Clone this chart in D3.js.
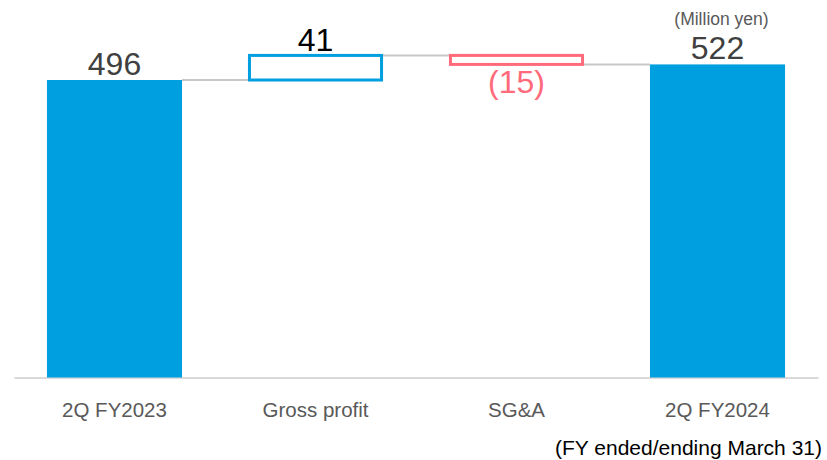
<!DOCTYPE html>
<html>
<head>
<meta charset="utf-8">
<script src="https://cdn.jsdelivr.net/npm/d3@7"></script>
<style>
  html, body { margin: 0; padding: 0; background: #fff; }
  svg { display: block; font-family: "Liberation Sans", Arial, sans-serif; }
</style>
</head>
<body>
<svg id="chart" width="827" height="460"></svg>
<script>
const categories = ["2Q FY2023", "Gross profit", "SG&A", "2Q FY2024"];
const values = [496, 41, -15, 522];
const kinds = ["total", "delta", "delta", "total"];
const valueLabels = ["496", "41", "(15)", "522"];
const unitLabel = "(Million yen)";
const footnote = "(FY ended/ending March 31)";

const blue = "#009FDF";
const red = "#FF6B7A";

// build waterfall rows
let running = 0;
const rows = categories.map((c, i) => {
  let start, end;
  if (kinds[i] === "total") { start = 0; end = values[i]; running = values[i]; }
  else { start = running; end = running + values[i]; running = end; }
  return { cat: c, value: values[i], kind: kinds[i], start, end, label: valueLabels[i] };
});

const svg = d3.select("#chart");
const x = d3.scaleBand().domain(categories).range([14, 818]).paddingInner(0.328).paddingOuter(0.164);
const y = d3.scaleLinear().domain([0, 629.4]).range([377.5, 0]);

// connectors
for (let i = 0; i < rows.length - 1; i++) {
  const lvl = rows[i].end;
  svg.append("line")
    .attr("x1", x(rows[i].cat) + x.bandwidth())
    .attr("x2", x(rows[i + 1].cat))
    .attr("y1", y(lvl)).attr("y2", y(lvl))
    .attr("stroke", "#c8c8c8").attr("stroke-width", 2);
}

// axis baseline
const xAxis = d3.axisBottom(x).tickSize(0).tickPadding(0);
const ax = svg.append("g").attr("transform", `translate(0,${y(0)})`).call(xAxis);
ax.select(".domain").attr("stroke", "#d9d9d9").attr("stroke-width", 2);
ax.selectAll(".tick text")
  .attr("y", 39.5).attr("dy", 0)
  .attr("font-size", 20.5).attr("fill", "#595959")
  .attr("font-family", "'Liberation Sans', Arial, sans-serif");

// bars
rows.forEach(r => {
  const top = y(Math.max(r.start, r.end));
  const bot = y(Math.min(r.start, r.end));
  if (r.kind === "total") {
    svg.append("rect")
      .attr("x", x(r.cat)).attr("width", x.bandwidth())
      .attr("y", top).attr("height", bot - top)
      .attr("fill", blue);
  } else {
    svg.append("rect")
      .attr("x", x(r.cat) + 1.5).attr("width", x.bandwidth() - 3)
      .attr("y", top).attr("height", bot - top)
      .attr("fill", "#fff")
      .attr("stroke", r.value >= 0 ? blue : red).attr("stroke-width", 3);
  }
});

// value labels
rows.forEach(r => {
  const cx = x(r.cat) + x.bandwidth() / 2;
  let ty, color;
  if (r.kind === "total") { ty = y(r.end) - 5; color = "#404040"; }
  else if (r.value >= 0) { ty = y(r.end) - 4; color = "#000000"; }
  else { ty = y(r.end) + 29; color = red; }
  svg.append("text")
    .attr("x", cx).attr("y", ty)
    .attr("text-anchor", "middle")
    .attr("font-size", 32).attr("fill", color)
    .text(r.label);
});

// unit label
svg.append("text")
  .attr("x", x(categories[3]) + x.bandwidth() / 2 + 4).attr("y", 25)
  .attr("text-anchor", "middle")
  .attr("font-size", 17.5).attr("fill", "#595959")
  .text(unitLabel);

// footnote
svg.append("text")
  .attr("x", 822).attr("y", 455)
  .attr("text-anchor", "end")
  .attr("font-size", 21).attr("fill", "#000")
  .text(footnote);
</script>
</body>
</html>
